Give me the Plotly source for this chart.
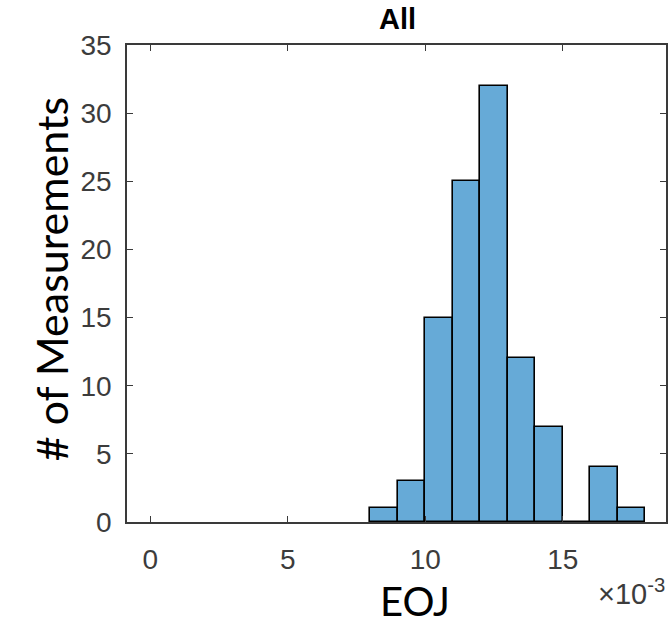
import plotly.graph_objects as go

# Histogram of EOJ values (bin width 1e-3)
bin_edges = [0.008, 0.009, 0.010, 0.011, 0.012, 0.013, 0.014, 0.015, 0.016, 0.017, 0.018]
counts = [1, 3, 15, 25, 32, 12, 7, 0, 4, 1]

x_tick_vals = [0.0, 0.005, 0.010, 0.015]
x_tick_text = ["0", "5", "10", "15"]
y_tick_vals = [0, 5, 10, 15, 20, 25, 30, 35]

centers = [(a + b) / 2 for a, b in zip(bin_edges[:-1], bin_edges[1:])]
widths = [b - a for a, b in zip(bin_edges[:-1], bin_edges[1:])]

W, H = 672, 626
L, R, T, B = 127, 4, 45, 104
PW, PH = W - L - R, H - T - B


def px_x(x):
    return (x - L) / PW


def px_y(y):
    return (H - B - y) / PH


fig = go.Figure()
fig.add_trace(go.Bar(
    x=centers, y=counts, width=widths,
    marker=dict(color="#66AAD7", line=dict(color="#000000", width=1.6)),
    showlegend=False,
))

tick_font = dict(family="Liberation Sans, Arial, sans-serif", size=28, color="#3c3c3c")
axis_common = dict(
    showline=True, linecolor="#3a3a3a", linewidth=1.5, mirror="ticks",
    ticks="inside", ticklen=6, tickwidth=1.2, tickcolor="#3a3a3a",
    showgrid=False, zeroline=False, tickfont=tick_font,
)

fig.update_layout(
    width=W, height=H,
    margin=dict(l=L, r=R, t=T, b=B, pad=0),
    paper_bgcolor="white", plot_bgcolor="white",
    bargap=0,
    xaxis=dict(range=[-0.00085, 0.01875], tickvals=x_tick_vals, ticktext=x_tick_text,
               ticklabelstandoff=12, **axis_common),
    yaxis=dict(range=[0, 35], tickvals=y_tick_vals, ticklabelstandoff=8, **axis_common),
    title=dict(text="<b>All</b>", x=(L + (W - R)) / 2 / W, xanchor="center",
               y=1 - 19 / H, yanchor="middle",
               font=dict(family="Liberation Sans, Arial, sans-serif", size=29, color="#000000")),
)

fig.add_annotation(
    text="# of Measurements", textangle=-90,
    xref="paper", yref="paper", x=px_x(51), y=px_y(279),
    xanchor="center", yanchor="middle", showarrow=False,
    font=dict(family="Lato, Noto Sans, sans-serif", size=43, color="#000000"),
)
fig.add_annotation(
    text="EOJ",
    xref="paper", yref="paper", x=px_x(416), y=px_y(601),
    xanchor="center", yanchor="middle", showarrow=False,
    font=dict(family="Lato, Noto Sans, sans-serif", size=40, color="#000000"),
)
fig.add_annotation(
    text="×10<sup>-3</sup>",
    xref="paper", yref="paper", x=px_x(669), y=px_y(592),
    xanchor="right", yanchor="middle", showarrow=False,
    font=dict(family="Liberation Sans, Arial, sans-serif", size=29, color="#3c3c3c"),
)

fig.write_html("out.html")
